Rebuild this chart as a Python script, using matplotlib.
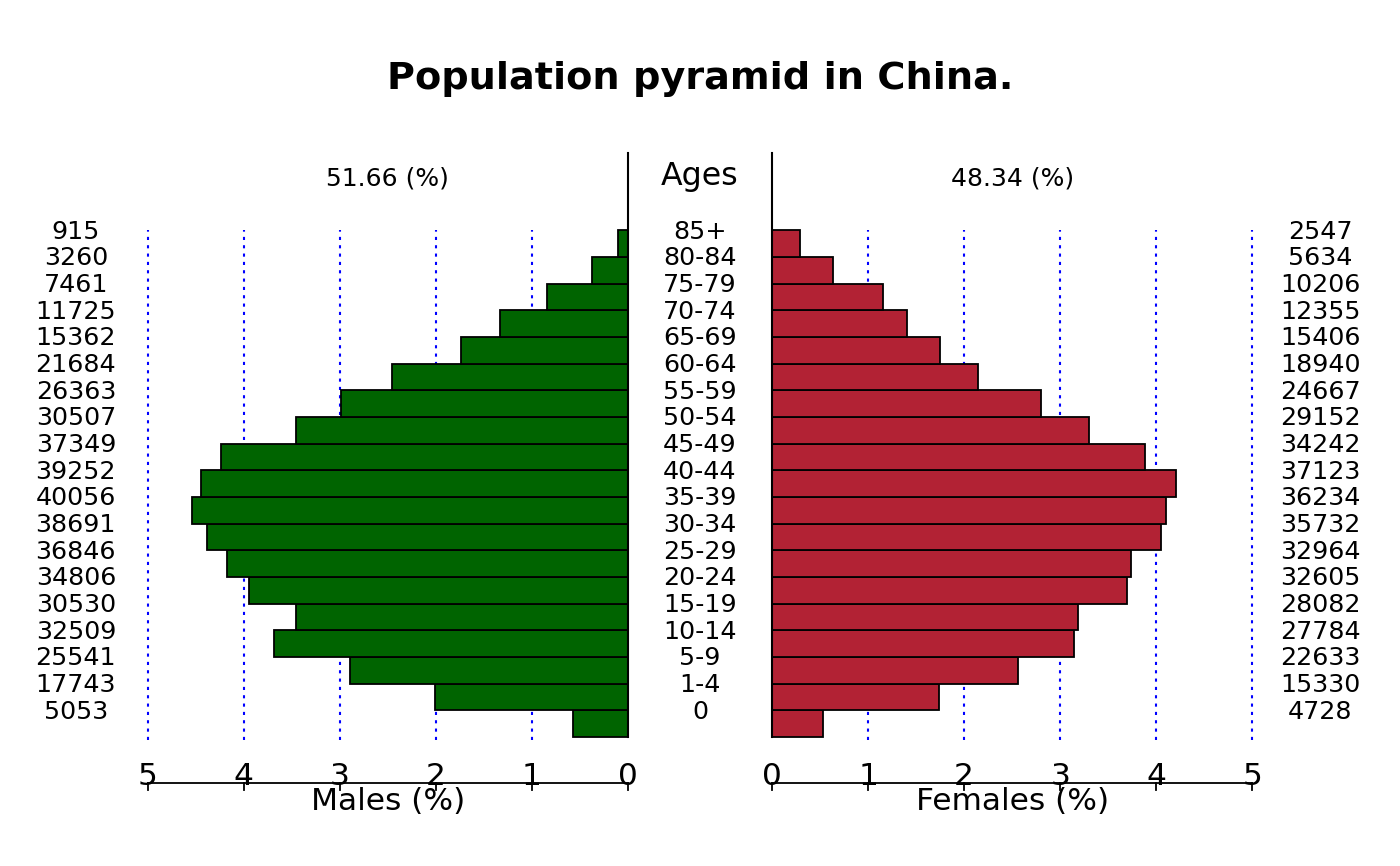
import matplotlib
matplotlib.use("Agg")

import numpy as np
import matplotlib.pyplot as plt

# age classes, youngest first
ages = ["0", "1-4", "5-9", "10-14", "15-19", "20-24", "25-29", "30-34", "35-39",
        "40-44", "45-49", "50-54", "55-59", "60-64", "65-69", "70-74", "75-79",
        "80-84", "85+"]
males = [5053, 17743, 25541, 32509, 30530, 34806, 36846, 38691, 40056,
         39252, 37349, 30507, 26363, 21684, 15362, 11725, 7461, 3260, 915]
females = [4728, 15330, 22633, 27784, 28082, 32605, 32964, 35732, 36234,
           37123, 34242, 29152, 24667, 18940, 15406, 12355, 10206, 5634, 2547]

m = np.array(males, dtype=float)
f = np.array(females, dtype=float)
total = m.sum() + f.sum()
mp = m / total * 100
fp = f / total * 100

gap = 0.75  # half width of the central age column
ticks = np.arange(0, 6)
n = len(ages)
y = np.arange(n)

fig = plt.figure(figsize=(14, 8.66), dpi=100)
ax = fig.add_axes([0, 0, 1, 1])
ax.set_xlim(-7.29, 7.29)
ax.set_ylim(-4.84, 27.63)
ax.axis("off")

# grid lines
for t in ticks[1:]:
    ax.plot([-gap - t, -gap - t], [-0.1, n], color="blue", linestyle=(0, (1.5, 2.5)), lw=1.5, zorder=1)
    ax.plot([gap + t, gap + t], [-0.1, n], color="blue", linestyle=(0, (1.5, 2.5)), lw=1.5, zorder=1)

# bars
ax.barh(y, -mp, left=-gap, height=1, align="edge", color="#006400", edgecolor="black", lw=1.3, zorder=2)
ax.barh(y, fp, left=gap, height=1, align="edge", color="#B22234", edgecolor="black", lw=1.3, zorder=2)

# central lines
ax.plot([-gap, -gap], [0, 21.9], color="black", lw=1.5, zorder=3)
ax.plot([gap, gap], [0, 21.9], color="black", lw=1.5, zorder=3)

# labels at top edge of each bar
fs = 18.3
dy = 0.05
for i in range(n):
    ax.text(0, i + 1 - dy, ages[i], ha="center", va="center", fontsize=fs)
    ax.text(-6.5, i + 1 - dy, males[i], ha="center", va="center", fontsize=fs)
    ax.text(6.46, i + 1 - dy, females[i], ha="center", va="center", fontsize=fs)

ax.text(0, 21.02, "Ages", ha="center", va="center", fontsize=22.8)
ax.text(-gap - 2.5, 20.92, "%.2f (%%)" % (m.sum() / total * 100), ha="center", va="center", fontsize=18)
ax.text(gap + 2.5, 20.92, "%.2f (%%)" % (f.sum() / total * 100), ha="center", va="center", fontsize=18)

# bottom axes
ya = -1.72
for side in (-1, 1):
    xs = side * (gap + ticks)
    ax.plot([xs.min(), xs.max()], [ya, ya], color="black", lw=1.3)
    for t, xv in zip(ticks, xs):
        ax.plot([xv, xv], [ya, ya - 0.26], color="black", lw=1.3)
        ax.text(xv, -1.5, str(t), ha="center", va="center", fontsize=22.5)
ax.text(-gap - 2.5, -2.42, "Males (%)", ha="center", va="center", fontsize=22.5)
ax.text(gap + 2.5, -2.42, "Females (%)", ha="center", va="center", fontsize=22.5)

ax.text(0, 24.66, "Population pyramid in China.", ha="center", va="center", fontsize=27.5, fontweight="bold")

plt.savefig("out.png", dpi=100)
